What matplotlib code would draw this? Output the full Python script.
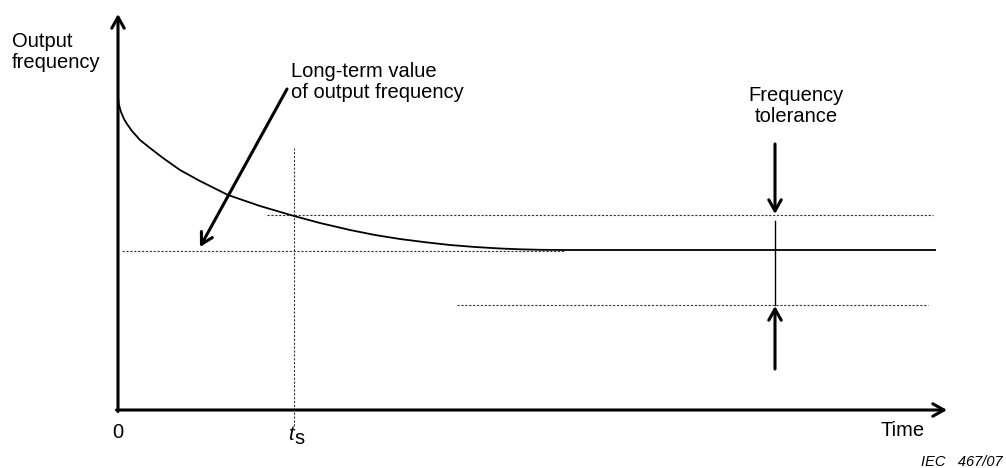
import matplotlib.pyplot as plt

plt.rcParams["font.family"] = ["Liberation Sans", "DejaVu Sans"]

# output frequency curve (time, frequency in arbitrary units)
time = [0, 1, 3, 6, 9, 14, 22, 32, 45, 62, 82, 110, 142, 176, 202, 232,
        257, 282, 307, 332, 357, 382, 402, 422, 447, 818]
freq = [313, 305, 298, 291, 286, 279, 270, 262, 252, 240, 229, 215, 204, 194, 187, 180,
        175, 171, 167.8, 165, 163, 161.5, 160.7, 160.2, 160, 160]

long_term = 159
tol_upper = 195
tol_lower = 105
t_s = 176
t_tol = 657

fig = plt.figure(figsize=(10.06, 4.68), dpi=100)
ax = fig.add_axes([0, 0, 1, 1])
ax.set_xlim(-118, 888)
ax.set_ylim(-58, 410)
ax.axis("off")

dot = dict(color="#333333", lw=0.8, ls=(0, (2, 1.5)))

# axes with arrows
head = "->,head_length=0.8,head_width=0.45"
ax.annotate("", xy=(0, 396), xytext=(0, -1.5),
            arrowprops=dict(arrowstyle=head, lw=2.2, color="black", shrinkA=0, shrinkB=0))
ax.annotate("", xy=(829, 0), xytext=(-1.5, 0),
            arrowprops=dict(arrowstyle=head, lw=2.2, color="black", shrinkA=0, shrinkB=0))

# reference lines
ax.plot([4, 447], [long_term, long_term], **dot)
ax.plot([149, 815], [tol_upper, tol_upper], **dot)
ax.plot([339, 810], [tol_lower, tol_lower], **dot)
ax.plot([t_s, t_s], [-16, 262], **dot)

# curve
ax.plot(time, freq, color="black", lw=1.3, solid_capstyle="butt", solid_joinstyle="round")

# tolerance band
ax.plot([t_tol, t_tol], [tol_lower, tol_upper - 6], color="black", lw=1.0)
ax.annotate("", xy=(t_tol, tol_upper + 1), xytext=(t_tol, 266),
            arrowprops=dict(arrowstyle=head, lw=2.2, color="black", shrinkA=0, shrinkB=0))
ax.annotate("", xy=(t_tol, tol_lower - 1), xytext=(t_tol, 41),
            arrowprops=dict(arrowstyle=head, lw=2.2, color="black", shrinkA=0, shrinkB=0))

# long-term value pointer
ax.annotate("", xy=(82, 163), xytext=(169, 321),
            arrowprops=dict(arrowstyle=head, lw=2.2, color="black", shrinkA=0, shrinkB=0))

fs = 14.5
ax.text(-106, 378, "Output\nfrequency", fontsize=fs, ha="left", va="top", linespacing=1.15)
ax.text(173, 348, "Long-term value\nof output frequency", fontsize=fs, ha="left", va="top",
        linespacing=1.15)
ax.text(678, 324, "Frequency\ntolerance", fontsize=fs, ha="center", va="top", linespacing=1.15)
ax.text(0, -22, "0", fontsize=fs, ha="center", va="center")
ax.text(t_s - 3, -25, "t", fontsize=fs, style="italic", ha="center", va="center")
ax.text(t_s + 5, -29, "s", fontsize=fs, ha="center", va="center")
ax.text(785, -20, "Time", fontsize=fs, ha="center", va="center")
ax.text(885, -52, "IEC   467/07", fontsize=10.5, style="italic", ha="right", va="center")

fig.savefig("out.png", dpi=100)
